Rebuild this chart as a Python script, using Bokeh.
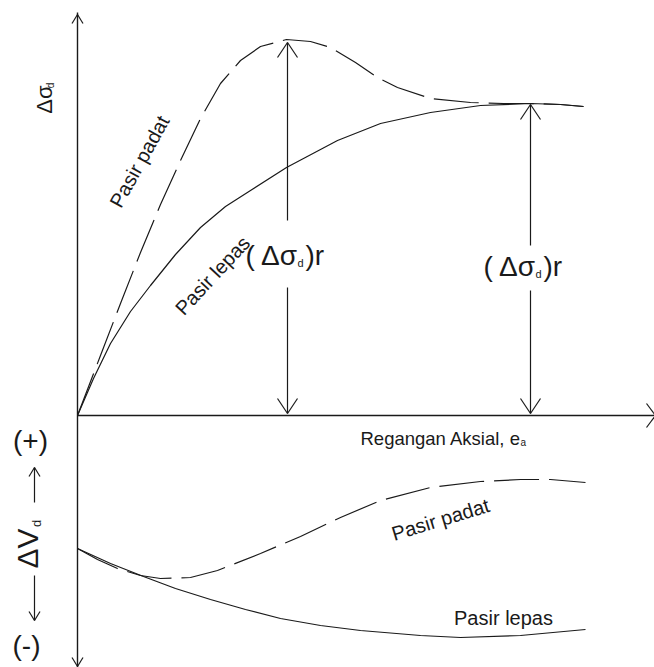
import math
from bokeh.plotting import figure
from bokeh.models import Range1d
from bokeh.core.properties import value
from bokeh.embed import file_html
from bokeh.resources import INLINE

# ---- data (schematic, in page-pixel units) ----
dense_x = [77, 100, 120, 140, 160, 180, 200, 220, 240, 260, 286, 310, 330, 355, 377, 397, 430, 470, 503, 530, 560, 583]
dense_y = [415, 355, 303, 252, 204, 160, 118, 83, 60, 46, 39, 41, 47, 62, 77, 87, 98, 102, 103, 103, 104, 106]

loose_x = [77, 93, 110, 130, 150, 175, 200, 225, 250, 286, 337, 380, 430, 480, 530, 560, 583]
loose_y = [415, 378, 343, 311, 285, 254, 227, 206, 190, 167, 140, 123, 112, 105, 103, 104, 106]

dense_vol_x = [77, 97, 117, 140, 160, 190, 217, 260, 300, 340, 380, 430, 480, 520, 550, 585]
dense_vol_y = [548, 559, 568, 575, 578, 577, 570, 553, 536, 517, 500, 487, 481, 479, 479, 482]

loose_vol_x = [77, 110, 143, 175, 210, 245, 280, 320, 360, 420, 460, 520, 585]
loose_vol_y = [548, 563, 576, 588, 599, 609, 618, 625, 630, 635, 637, 635, 629]

peak_x, peak_y = 287, 40          # peak strength of dense sand
resid_x, resid_y = 530, 103       # residual strength

INK = "#1a1a1a"
FONT = value("Liberation Sans")

p = figure(width=654, height=667, output_backend="svg", toolbar_location=None,
           x_range=Range1d(0, 654), y_range=Range1d(667, 0), min_border=0)
p.axis.visible = False
p.grid.visible = False
p.outline_line_color = None
p.background_fill_color = "white"

# axes
p.line([77, 77], [12, 667], line_color=INK, line_width=1.4)
p.line([77, 656], [415, 415], line_color=INK, line_width=1.4)


def vhead(tx, ty, dx, dy, length, half):
    """open V arrow head at tip (tx,ty) pointing along (dx,dy)."""
    n = math.hypot(dx, dy)
    ux, uy = dx / n, dy / n
    px, py = -uy, ux
    bx, by = tx - ux * length, ty - uy * length
    return ([tx, tx], [ty, ty],
            [bx + px * half, bx - px * half], [by + py * half, by - py * half])


heads = [
    vhead(77, 14, 0, -1, 9, 5.5),       # top of y axis
    vhead(77, 666, 0, 1, 9, 5.5),       # bottom of y axis
    vhead(655, 415, 1, 0, 9, 12),       # end of strain axis
    vhead(peak_x, peak_y + 2, 0, -1, 15, 10),
    vhead(peak_x, 413, 0, 1, 15, 10),
    vhead(resid_x, resid_y + 1, 0, -1, 15, 10),
    vhead(resid_x, 413, 0, 1, 15, 10),
    vhead(34, 467, 0, -1, 9, 5.5),
    vhead(34, 620, 0, 1, 9, 5.5),
]
x0, y0, x1, y1 = [], [], [], []
for hx0, hy0, hx1, hy1 in heads:
    x0 += hx0; y0 += hy0; x1 += hx1; y1 += hy1
p.segment(x0=x0, y0=y0, x1=x1, y1=y1, line_color=INK, line_width=1.2)

# vertical dimension lines (broken for the label)
p.segment(x0=[peak_x, peak_x, resid_x, resid_x, 34, 34],
          y0=[peak_y + 2, 287, resid_y + 1, 290, 502, 575],
          x1=[peak_x, peak_x, resid_x, resid_x, 34, 34],
          y1=[220, 413, 245, 413, 467, 620],
          line_color=INK, line_width=1.2)

# curves
p.line(dense_x, dense_y, line_color=INK, line_width=1.2, line_dash="45 10")
p.line(loose_x, loose_y, line_color=INK, line_width=1.2)
p.line(dense_vol_x, dense_vol_y, line_color=INK, line_width=1.2, line_dash="45 10")
p.line(loose_vol_x, loose_vol_y, line_color=INK, line_width=1.2)


def txt(x, y, s, size, angle=0.0, align="center", baseline="middle"):
    p.text(x=[x], y=[y], text=[s], angle=math.radians(angle), text_font=FONT,
           text_font_size=f"{size}px", text_color=INK, text_align=align,
           text_baseline=baseline)


# labels
txt(44, 99, "Δσ", 22, angle=90)
txt(50, 85, "d", 10, angle=90)
txt(139, 161, "Pasir padat", 20, angle=61)
txt(212, 275, "Pasir lepas", 20, angle=47)

txt(245, 255, "( Δσ", 28, align="left")
txt(297, 262, "d", 11, align="left")
txt(305, 255, ")r", 28, align="left")
txt(483, 266, "( Δσ", 28, align="left")
txt(535, 273, "d", 11, align="left")
txt(543, 266, ")r", 28, align="left")

txt(360, 438, "Regangan Aksial, e", 18.5, align="left", baseline="alphabetic")
txt(520, 442, "a", 10, align="left", baseline="alphabetic")

txt(30, 440, "(+)", 28)
txt(26, 645, "(-)", 28)
txt(27, 548, "ΔV", 30, angle=90)
txt(36, 523, "d", 13, angle=90)

txt(440, 519, "Pasir padat", 20, angle=17)
txt(503, 617, "Pasir lepas", 20)

open("out.html", "w").write(file_html(p, INLINE))
